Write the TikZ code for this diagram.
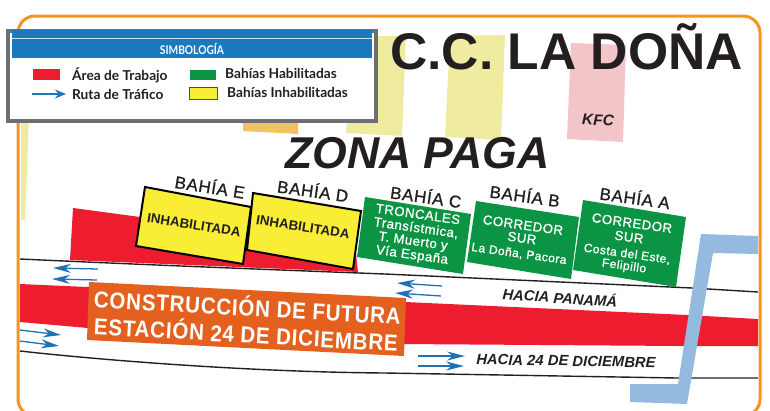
\documentclass[tikz,border=0pt]{standalone}
\usepackage{fontspec}
\setmainfont{Liberation Sans}
\newfontfamily\legendfont{Lato}
\newfontfamily\wideb[LetterSpace=4]{Liberation Sans}
\newfontfamily\medf[FakeBold=1,LetterSpace=4]{Liberation Sans}
\usetikzlibrary{arrows.meta}
\definecolor{ink}{HTML}{231F20}
\definecolor{frameor}{HTML}{F7941E}
\definecolor{workred}{HTML}{ED1C2E}
\definecolor{bayg}{HTML}{0B9444}
\definecolor{bayy}{HTML}{F9EE35}
\definecolor{legblue}{HTML}{1A7ABD}
\definecolor{legborder}{HTML}{6D6E71}
\definecolor{fadey}{HTML}{EFEB9F}
\definecolor{fadeo}{HTML}{F1C162}
\definecolor{fadep}{HTML}{F3C5C8}
\definecolor{signor}{HTML}{E4601F}
\definecolor{pathblue}{HTML}{94BAE0}
\definecolor{arrowb}{HTML}{1F71B3}
\tikzset{
  txt/.style={inner sep=0pt,text=ink,align=center},
  baylabel/.style={txt,font=\medf\fontsize{17}{17}\selectfont},
  inhab/.style={txt,font=\bfseries\fontsize{13.4}{13.4}\selectfont,rotate=-9},
  gtext/.style={inner sep=0pt,text=white,font=\medf\fontsize{13.2}{13.2}\selectfont},
  gsmall/.style={inner sep=0pt,text=white,font=\medf\fontsize{12}{12}\selectfont},
  legtext/.style={inner sep=0pt,anchor=west,text=ink,font=\legendfont\bfseries\fontsize{13.7}{14}\selectfont},
  road/.style={draw=ink,line width=1.4pt},
  flow/.style={draw=arrowb,line width=1.3pt,-{Stealth[length=18pt,width=9pt]}},
  yellowbay/.style={fill=bayy,draw=black,line width=2pt,line join=miter},
  signtext/.style={inner sep=0pt,text=white,font=\wideb\bfseries\fontsize{20.5}{20.5}\selectfont,rotate=-3.2},
  dirtext/.style={txt,font=\bfseries\itshape\fontsize{14.8}{14.8}\selectfont}
}
\begin{document}
\begin{tikzpicture}[x=1pt,y=-1pt]
\useasboundingbox (0,0) rectangle (770,410);
\clip (0,0) rectangle (770,410);
% frame
\draw[frameor,line width=3pt,rounded corners=17pt] (18,16) rectangle (760,416);
% faded buildings
\fill[fadey] (21,118) -- (29,118) -- (25,220) -- (21,220) -- cycle;
\fill[fadeo] (243,110) -- (298,110) -- (298,134) -- (243,131) -- cycle;
\fill[fadey] (352,36) -- (406,36) -- (402,136) -- (346,133) -- cycle;
\fill[fadey] (450,36) -- (505,35) -- (501,140) -- (445,137) -- cycle;
\fill[fadep] (571,43) -- (626,45) -- (623,142) -- (567,139) -- cycle;
% work areas
\fill[workred] (73,208) -- (200,225) -- (355,245) -- (358,272) -- (70,260) -- cycle;
\fill[workred] (20,284) .. controls (150,290) and (300,295) .. (405,302) -- (687,315) -- (758,319)
  -- (758,346) -- (682,346) -- (400,344) .. controls (280,340) and (150,335) .. (88,328) -- (20,322) -- cycle;
% road edges
\coordinate (ua) at (20,259); \coordinate (ub) at (758,292);
\coordinate (la) at (20,351); \coordinate (lb) at (758,378);
\draw[road] (ua) .. controls (150,265) and (280,270) .. (385,274) -- (692,288) -- (ub);
\draw[road] (la) .. controls (100,360) and (250,372) .. (385,373) -- (677,378) -- (lb);
% bays
\fill[bayg] (365,197) -- (471,214) -- (463,274) -- (357,257) -- cycle;
\fill[bayg] (476,201) -- (579,217) -- (571,279) -- (467,262) -- cycle;
\fill[bayg] (583,200) -- (686,217) -- (676,287) -- (573,270) -- cycle;
\filldraw[yellowbay] (253,193) -- (361,211) -- (353,269) -- (247,250) -- cycle;
\filldraw[yellowbay] (145,187) -- (251,207) -- (243,264) -- (136,246) -- cycle;
% light-blue path
\fill[pathblue] (758,236) -- (701,234) -- (678,384) -- (630,384) -- (630,402) -- (687,404) -- (713,253) -- (758,254) -- cycle;
% orange sign
\fill[signor] (89,282) -- (406,298) -- (404,356) -- (87,340) -- cycle;
\node[signtext] (s1) at (247.5,306) {\scalebox{1}[1.12]{CONSTRUCCIÓN DE FUTURA}};
\node[signtext] (s2) at (246,333) {\scalebox{1}[1.12]{ESTACIÓN 24 DE DICIEMBRE}};
% traffic arrows
\coordinate (a1s) at (98,269); \coordinate (a1e) at (53,268);
\coordinate (a2s) at (97,280); \coordinate (a2e) at (52,279);
\coordinate (a3s) at (20,330); \coordinate (a3e) at (61,335);
\coordinate (a4s) at (20,341); \coordinate (a4e) at (59,346);
\coordinate (a5s) at (442,286); \coordinate (a5e) at (397,283);
\coordinate (a6s) at (441,296); \coordinate (a6e) at (395,293);
\coordinate (a7s) at (418,356); \coordinate (a7e) at (465,356);
\coordinate (a8s) at (418,366); \coordinate (a8e) at (464,366);
\draw[flow] (a1s) -- (a1e);
\draw[flow] (a2s) -- (a2e);
\draw[flow] (a3s) -- (a3e);
\draw[flow] (a4s) -- (a4e);
\draw[flow] (a5s) -- (a5e);
\draw[flow] (a6s) -- (a6e);
\draw[flow] (a7s) -- (a7e);
\draw[flow] (a8s) -- (a8e);
% titles
\node[txt,anchor=base west,font=\bfseries\fontsize{51.6}{51.6}\selectfont] (title) at (390,69) {C.C. LA DOÑA};
\node[txt,anchor=base west,font=\bfseries\itshape\fontsize{44.6}{44.6}\selectfont] (zona) at (285,168) {ZONA PAGA};
\node[txt,rotate=-2,font=\bfseries\itshape\fontsize{15.5}{15.5}\selectfont] (kfc) at (598,120) {KFC};
% bay labels
\node[baylabel,rotate=-9] (be) at (210,186) {BAHÍA E};
\node[baylabel,rotate=-8] (bd) at (313,190) {BAHÍA D};
\node[baylabel,rotate=-8] (bc) at (426,196) {BAHÍA C};
\node[baylabel,rotate=-8] (bb) at (525,195) {BAHÍA B};
\node[baylabel,rotate=-8] (ba) at (635,197) {BAHÍA A};
\node[inhab] (ie) at (194,225) {INHABILITADA};
\node[inhab] (id) at (303,227) {INHABILITADA};
% green texts
\node[gtext,rotate=-8] (c1) at (418,214) {TRONCALES};
\node[gtext,rotate=-8] (c2) at (416,228) {Transístmica,};
\node[gtext,rotate=-8] (c3) at (413,242) {T. Muerto y};
\node[gtext,rotate=-8] (c4) at (412,255.5) {Vía España};
\node[gtext,rotate=-8] (b1) at (523,225) {CORREDOR};
\node[gtext,rotate=-8] (b2) at (522,238) {SUR};
\node[gsmall,rotate=-8] (b3) at (519,254) {La Doña, Pacora};
\node[gtext,rotate=-8] (a1) at (632,223) {CORREDOR};
\node[gtext,rotate=-8] (a2) at (629,237) {SUR};
\node[gsmall,rotate=-8] (a3) at (627,254) {Costa del Este,};
\node[gsmall,rotate=-8] (a4) at (624,266.5) {Felipillo};
% direction labels
\node[dirtext,rotate=-4] (hp) at (560,297) {HACIA PANAMÁ};
\node[dirtext,rotate=-1] (h24) at (566,361) {HACIA 24 DE DICIEMBRE};
% legend
\filldraw[fill=white,draw=legborder,line width=4pt] (8,31) rectangle (376,121);
\fill[legblue] (12,30) rectangle (372,58);
\draw[white!80!legblue,line width=.9pt] (12,38) -- (372,38);
\node[inner sep=0pt,text=white,font=\legendfont\bfseries\fontsize{12}{12}\selectfont] (simb) at (192,48.5) {\scalebox{0.85}[1]{SIMBOLOGÍA}};
\fill[workred] (33,69) rectangle (60,80);
\fill[bayg] (190,70) rectangle (216,80);
\filldraw[fill=bayy,draw=ink!80,line width=1pt] (189,87.5) rectangle (217,99);
\coordinate (ls) at (32,94); \coordinate (le) at (66,94);
\draw[draw=legblue,line width=2.2pt,-{Stealth[length=11pt,width=9pt]}] (ls) -- (le);
\node[legtext] (l1) at (72,75.5) {Área de Trabajo};
\node[legtext] (l2) at (72,94.5) {Ruta de Tráfico};
\node[legtext] (l3) at (225,73.5) {Bahías Habilitadas};
\node[legtext] (l4) at (227,92.5) {Bahías Inhabilitadas};
\end{tikzpicture}
\end{document}
